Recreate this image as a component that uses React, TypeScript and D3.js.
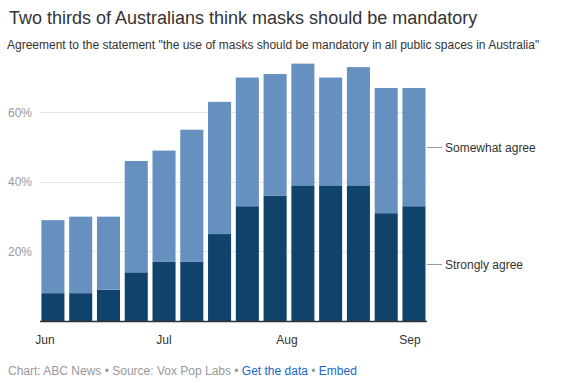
import React, { useEffect, useRef } from "react";
import * as d3 from "d3";

const weeks = [
  "2020-06-03", "2020-06-10", "2020-06-17", "2020-06-24", "2020-07-01", "2020-07-08", "2020-07-15",
  "2020-07-22", "2020-07-29", "2020-08-05", "2020-08-12", "2020-08-19", "2020-08-26", "2020-09-02",
];
const stronglyAgree = [8, 8, 9, 14, 17, 17, 25, 33, 36, 39, 39, 39, 31, 33];
const somewhatAgree = [21, 22, 21, 32, 32, 38, 38, 37, 35, 35, 31, 34, 36, 34];
const yTicks = [20, 40, 60];
const monthTicks = ["2020-06-01", "2020-07-01", "2020-08-01", "2020-09-01"];
const seriesNames = ["Strongly agree", "Somewhat agree"];

const W = 580, H = 383;
const left = 40, right = 427, bottom = 321;

export default function App() {
  const ref = useRef<SVGSVGElement>(null);
  useEffect(() => {
    const svg = d3.select(ref.current);
    svg.selectAll("*").remove();
    const font = "'Liberation Sans', Arial, sans-serif";
    const parse = (s: string) => new Date(s + "T00:00:00Z");
    const x = d3.scaleUtc()
      .domain([parse("2020-06-01"), parse("2020-09-01")])
      .range([45, 410]);
    const y = d3.scaleLinear().domain([0, 75]).range([bottom, bottom - 75 * 3.478]);
    const weekPx = x(parse("2020-06-08")) - x(parse("2020-06-01"));
    const bw = weekPx * 0.83;

    svg.append("text").attr("x", 9).attr("y", 24).attr("font-family", font)
      .attr("font-size", 18).attr("fill", "#333")
      .text("Two thirds of Australians think masks should be mandatory");
    svg.append("text").attr("x", 7).attr("y", 49).attr("font-family", font)
      .attr("font-size", 12).attr("fill", "#333")
      .text('Agreement to the statement "the use of masks should be mandatory in all public spaces in Australia"');

    yTicks.forEach((t) => {
      svg.append("line").attr("x1", left).attr("x2", right)
        .attr("y1", Math.round(y(t)) + 0.5).attr("y2", Math.round(y(t)) + 0.5)
        .attr("stroke", "#e6e6e6").attr("stroke-width", 1);
      svg.append("text").attr("x", 32).attr("y", y(t) + 4.5).attr("text-anchor", "end")
        .attr("font-family", font).attr("font-size", 12).attr("fill", "#999")
        .text(`${t}%`);
    });

    const data = weeks.map((w, i) => ({ d: parse(w), s: stronglyAgree[i], m: somewhatAgree[i] }));
    const stack = d3.stack<any>().keys(["s", "m"])(data as any);
    const colors = ["#10436b", "#6590bf"];
    stack.forEach((layer, li) => {
      svg.append("g").selectAll("rect").data(layer).join("rect")
        .attr("x", (d: any) => x(d.data.d) - bw / 2)
        .attr("width", bw)
        .attr("y", (d: any) => y(d[1]))
        .attr("height", (d: any) => y(d[0]) - y(d[1]))
        .attr("fill", colors[li]);
    });

    svg.append("line").attr("x1", left).attr("x2", right).attr("y1", bottom + 0.5).attr("y2", bottom + 0.5)
      .attr("stroke", "#333").attr("stroke-width", 1.5);

    const fmt = d3.utcFormat("%b");
    monthTicks.forEach((m) => {
      svg.append("text").attr("x", x(parse(m))).attr("y", 344).attr("text-anchor", "middle")
        .attr("font-family", font).attr("font-size", 12).attr("fill", "#333")
        .text(fmt(parse(m)));
    });

    const last = data[data.length - 1];
    const mids = [last.s / 2, last.s + last.m / 2];
    seriesNames.forEach((n, i) => {
      const yy = Math.round(y(mids[i])) + 0.5;
      svg.append("line").attr("x1", right).attr("x2", 442).attr("y1", yy).attr("y2", yy)
        .attr("stroke", "#999").attr("stroke-width", 1);
      svg.append("text").attr("x", 445).attr("y", yy + 4).attr("font-family", font)
        .attr("font-size", 12).attr("fill", "#333").text(n);
    });

    const foot = svg.append("text").attr("x", 8).attr("y", 375).attr("font-family", font)
      .attr("font-size", 12);
    foot.append("tspan").attr("fill", "#999").text("Chart: ABC News • Source: Vox Pop Labs • ");
    foot.append("tspan").attr("fill", "#1a66c7").text("Get the data");
    foot.append("tspan").attr("fill", "#999").text(" • ");
    foot.append("tspan").attr("fill", "#1a66c7").text("Embed");
  }, []);
  return (
    <svg ref={ref} width={W} height={H}
      style={{ position: "fixed", left: 0, top: 0, background: "#fff" }} />
  );
}
